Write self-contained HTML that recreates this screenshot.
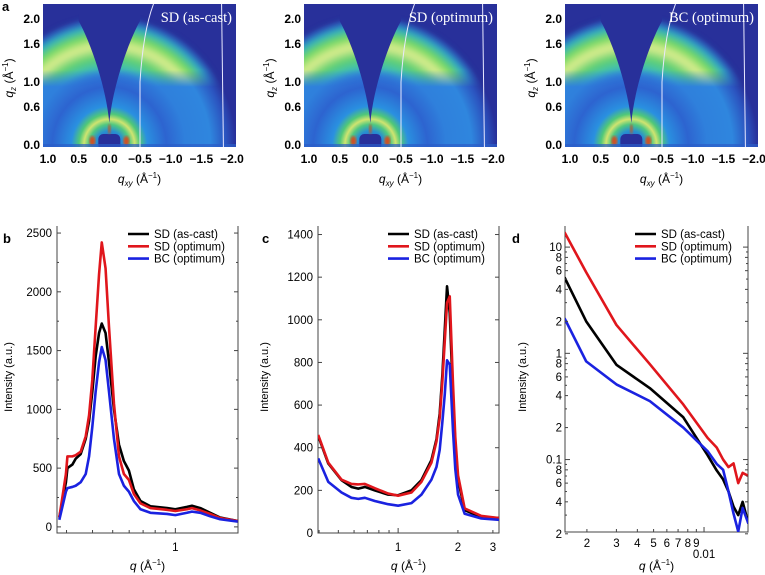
<!DOCTYPE html>
<html><head><meta charset="utf-8"><style>
html,body{margin:0;padding:0;background:#fff;}
svg{display:block;font-family:"Liberation Sans",sans-serif;}
</style></head><body>
<svg id="fig" width="765" height="575" viewBox="0 0 765 575">
<defs>
<radialGradient id="halo" cx="0.5" cy="0.5" r="0.5">
<stop offset="0" stop-color="#2250c8"/>
<stop offset="0.11" stop-color="#2890d0"/>
<stop offset="0.16" stop-color="#50c880"/>
<stop offset="0.2" stop-color="#d0e470"/>
<stop offset="0.24" stop-color="#50c878"/>
<stop offset="0.3" stop-color="#2a90e0"/>
<stop offset="0.45" stop-color="#2d64d0"/>
<stop offset="0.6" stop-color="#2f80dc"/>
<stop offset="0.8" stop-color="#2f86de"/>
<stop offset="0.92" stop-color="#2b54c0"/>
<stop offset="1" stop-color="#28309a"/>
</radialGradient>
<radialGradient id="greenband" cx="0.5" cy="0.5" r="0.5">
<stop offset="0" stop-color="#2f8ae0" stop-opacity="0"/>
<stop offset="0.52" stop-color="#2f8ae0" stop-opacity="0"/>
<stop offset="0.6" stop-color="#40c0b0"/>
<stop offset="0.68" stop-color="#60d070"/>
<stop offset="0.77" stop-color="#e0ee90"/>
<stop offset="0.85" stop-color="#70d860"/>
<stop offset="0.92" stop-color="#2fb0c0"/>
<stop offset="1" stop-color="#2f60d0" stop-opacity="0"/>
</radialGradient>
<linearGradient id="bandFade" x1="0" y1="0" x2="0" y2="1">
<stop offset="0" stop-color="#fff"/>
<stop offset="0.46" stop-color="#fff"/>
<stop offset="0.58" stop-color="#000"/>
<stop offset="1" stop-color="#000"/>
</linearGradient>
<filter id="blur3"><feGaussianBlur stdDeviation="3"/></filter>
<filter id="blur1"><feGaussianBlur stdDeviation="1.2"/></filter>
</defs>
<g id="panelA"></g>
<g id="panelB"></g>
<g id="panelC"></g>
<g id="panelD"></g>
</svg>
<script>
// ---------- Panel a data ----------
const aTitles = ["SD (as-cast)", "SD (optimum)", "BC (optimum)"];
const aLefts = [43, 304, 565];
const aXTicks = [1.0, 0.5, 0.0, -0.5, -1.0, -1.5, -2.0];
const aXTickLabels = ["1.0", "0.5", "0.0", "\u22120.5", "\u22121.0", "\u22121.5", "\u22122.0"];
const aYTicks = [0.0, 0.6, 1.0, 1.6, 2.0];
const aYTickLabels = ["0.0", "0.6", "1.0", "1.6", "2.0"];

// ---------- Panel b data ----------
const bQ = [0.277,0.298,0.303,0.320,0.332,0.351,0.371,0.385,0.399,0.414,0.430,0.443,0.462,0.480,0.507,0.536,0.566,0.598,0.632,0.680,0.759,0.912,1.0,1.137,1.202,1.318,1.470,1.641,1.995];
const bBlack = [80,380,500,530,580,620,750,900,1150,1450,1650,1730,1650,1400,1000,700,560,480,320,220,175,160,150,170,180,160,120,80,50];
const bRed = [80,450,600,600,610,640,770,950,1250,1700,2150,2420,2200,1700,1050,600,450,400,280,200,160,145,135,150,160,140,110,75,50];
const bBlue = [60,300,330,340,350,380,450,600,850,1150,1400,1530,1420,1150,750,450,350,300,220,150,120,110,100,120,130,120,90,65,45];
const bYTicks = [0,500,1000,1500,2000,2500];
const bXTicks = [1];

// ---------- Panel c data ----------
const cQ = [0.396,0.445,0.519,0.582,0.630,0.680,0.763,0.891,1.0,1.167,1.310,1.471,1.560,1.619,1.670,1.717,1.763,1.819,1.889,1.940,2.003,2.163,2.623,3.22];
const cBlack = [455,326,248,216,208,216,200,180,177,200,248,342,440,560,740,953,1157,1032,640,420,250,107,75,70];
const cRed = [460,330,250,230,228,230,210,185,175,190,240,330,430,540,710,900,1080,1110,700,450,270,115,80,70];
const cBlue = [350,240,190,165,160,165,150,135,128,140,180,250,310,390,520,650,810,790,480,300,180,90,68,62];
const cYTicks = [0,200,400,600,800,1000,1200,1400];
const cXTicks = [1,2,3];

// ---------- Panel d data ----------
const dQ = [0.00147,0.00198,0.0030,0.00475,0.00752,0.0105,0.0119,0.0130,0.0140,0.0150,0.0160,0.0170,0.0184];
const dRed = [13.8,5.8,1.85,0.79,0.33,0.16,0.13,0.10,0.085,0.092,0.06,0.075,0.07];
const dBlack = [5.2,2.0,0.78,0.47,0.25,0.11,0.079,0.065,0.05,0.036,0.03,0.04,0.025];
const dBlue = [2.14,0.84,0.51,0.355,0.20,0.12,0.091,0.08,0.05,0.031,0.021,0.035,0.025];
const dYMajor = [0.1,1,10];
const dYMinorLabeled = [0.02,0.04,0.06,0.08,0.2,0.4,0.6,0.8,2,4,6,8];
const dXLabeled = [0.002,0.003,0.004,0.005,0.006,0.007,0.008,0.009];

const NS = "http://www.w3.org/2000/svg";
function mk(tag, attrs, parent, text){
  const e = document.createElementNS(NS, tag);
  for (const k in attrs) e.setAttribute(k, attrs[k]);
  if (text !== undefined) e.textContent = text;
  parent.appendChild(e);
  return e;
}

// ================= Panel a =================
const gA = document.getElementById('panelA');
const lblA = mk('text', {x:2, y:11, 'font-size':13, 'font-weight':'bold'}, gA, 'a');


const defs = document.querySelector('defs');
aLefts.forEach((L, i) => {
  const W = 193, T = 4, H = 143;
  const sx = 184/3;
  const sy = 63;
  const x0 = L + 5;
  const xq = q => x0 + (1 - q) * sx;
  const yq = q => 145 - q * sy;
  const cx = xq(0), cy = yq(0);
  const g = mk('g', {}, gA);
  
  
  const cp = mk('clipPath', {id:'clipA'+i}, defs);
  mk('rect', {x:L, y:T, width:W, height:H}, cp);
  const mask = mk('mask', {id:'maskA'+i, maskUnits:'userSpaceOnUse', x:L, y:T, width:W, height:H}, defs);
  mk('rect', {x:L, y:T, width:W, height:H, fill:'url(#bandFade)'}, mask);
  const img = mk('g', {'clip-path':`url(#clipA${i})`}, g);
  mk('rect', {x:L, y:T, width:W, height:H, fill:'#28309a'}, img);
  const R = 2.05 * sy;
  mk('ellipse', {cx:cx, cy:cy, rx:R*0.98, ry:R, fill:'url(#halo)'}, img);
  const band = mk('g', {mask:`url(#maskA${i})`}, img);
  mk('ellipse', {cx:cx, cy:cy, rx:R*0.98, ry:R, fill:'url(#greenband)', filter:'url(#blur3)'}, band);
  mk('path', {d:`M${cx},${yq(0.35)} C${cx-3},${yq(0.9)} ${cx-18},${yq(1.6)} ${xq(0.5)},${yq(1.97)} L${xq(0.5)},${T} L${xq(-0.5)},${T} L${xq(-0.5)},${yq(1.97)} C${cx+18},${yq(1.6)} ${cx+3},${yq(0.9)} ${cx},${yq(0.35)} Z`, fill:'#28309a'}, img);
  mk('rect', {x:cx-11, y:cy-11, width:22, height:16, rx:5, fill:'#28309a'}, img);
  [-17, 17].forEach(dx => mk('ellipse', {cx:cx+dx, cy:cy-4, rx:3, ry:5, fill:'#d05020', filter:'url(#blur1)'}, img));
  mk('ellipse', {cx:cx, cy:cy-16, rx:1.5, ry:5, fill:'#b06030', filter:'url(#blur1)'}, img);
  mk('rect', {x:L, y:cy-1, width:W, height:3, fill:'#2b5cc8', opacity:0.7}, img);
  mk('path', {d:`M${xq(-0.5)},${T+H} L${xq(-0.5)},${yq(1.0)} Q${xq(-0.55)},${yq(1.8)} ${xq(-0.72)},${T}`, stroke:'#e8e8ff', 'stroke-width':1, fill:'none'}, img);
  mk('path', {d:`M${xq(-1.86)},${T+H} L${xq(-1.83)},${T}`, stroke:'#e8e8ff', 'stroke-width':1, fill:'none'}, img);
  const tt = mk('text', {x:L+W-4, y:22, 'text-anchor':'end', fill:'#fff', 'font-size':14.5, 'font-family':'"Liberation Serif",serif'}, g, aTitles[i]);
  
  
  aXTicks.forEach((q, k) => {
    const t = mk('text', {x:xq(q), y:163, 'text-anchor':'middle', 'font-size':12, 'font-weight':'bold'}, g, aXTickLabels[k]);
    
    
  });
  aYTicks.forEach((q, k) => {
    const t = mk('text', {x:L-3, y:yq(q)+4, 'text-anchor':'end', 'font-size':12, 'font-weight':'bold'}, g, aYTickLabels[k]);
    
    
  });
  const xl = mk('text', {x:L+W/2, y:183, 'text-anchor':'middle', 'font-size':12}, g);
  
  
  xl.innerHTML = '<tspan font-style="italic">q</tspan><tspan font-style="italic" font-size="8" dy="3">xy</tspan><tspan dy="-3"> (Å</tspan><tspan font-size="8" dy="-5">−1</tspan><tspan dy="5">)</tspan>';
  const yl = mk('text', {transform:`translate(${L-30},${78}) rotate(-90)`, 'text-anchor':'middle', 'font-size':12}, g);
  
  
  yl.innerHTML = '<tspan font-style="italic">q</tspan><tspan font-style="italic" font-size="8" dy="3">z</tspan><tspan dy="-3"> (Å</tspan><tspan font-size="8" dy="-5">−1</tspan><tspan dy="5">)</tspan>';
});

// ================= Line chart helper =================
function lineChart(opt){
  const g = document.getElementById(opt.id);
  const {L, R, T, B} = opt;
  const xs = q => L + (Math.log10(q) - Math.log10(opt.xmin)) / (Math.log10(opt.xmax) - Math.log10(opt.xmin)) * (R - L);
  const ys = opt.ylog
    ? v => B - (Math.log10(v) - Math.log10(opt.ymin)) / (Math.log10(opt.ymax) - Math.log10(opt.ymin)) * (B - T)
    : v => B - (v - opt.ymin) / (opt.ymax - opt.ymin) * (B - T);
  const pl = mk('text', {x:opt.labelX, y:243, 'font-size':13, 'font-weight':'bold'}, g, opt.letter);
  
  
  const cp = mk('clipPath', {id:'clip'+opt.id}, defs);
  mk('rect', {x:L, y:T, width:R-L, height:B-T}, cp);
  const ax = mk('path', {d:`M${L},${T} L${L},${B} L${R},${B} L${R},${T}`, stroke:'#444', 'stroke-width':1, fill:'none'}, g);
  
  
  const pg = mk('g', {'clip-path':`url(#clip${opt.id})`}, g);
  opt.series.forEach(s => {
    let d = '';
    opt.q.forEach((q, k) => { d += (k ? 'L' : 'M') + xs(q).toFixed(2) + ',' + ys(s.v[k]).toFixed(2); });
    const p = mk('path', {d:d, stroke:s.c, 'stroke-width':2.6, fill:'none', 'stroke-linejoin':'round'}, pg);
    
    
  });
  opt.series.forEach((s, k) => {
    const y = 234 + k * 12.3;
    const lg = mk('g', {}, g);
    
    
    mk('line', {x1:opt.legX, x2:opt.legX+21, y1:y, y2:y, stroke:s.c, 'stroke-width':2.6}, lg);
    mk('text', {x:opt.legX+26, y:y+4, 'font-size':11.5}, lg, s.label);
  });
  const yt = mk('text', {transform:`translate(${opt.yTitleX},377) rotate(-90)`, 'text-anchor':'middle', 'font-size':11}, g, 'Intensity (a.u.)');
  
  
  const xt = mk('text', {x:(L+R)/2, y:570, 'text-anchor':'middle', 'font-size':12}, g);
  
  
  xt.innerHTML = '<tspan font-style="italic">q</tspan> (Å<tspan font-size="8" dy="-5">−1</tspan><tspan dy="5">)</tspan>';
  return {g, xs, ys, L, R, T, B};
}
function tick(g, x1, y1, x2, y2){ mk('line', {x1, y1, x2, y2, stroke:'#444', 'stroke-width':1}, g); }
function label(g, x, y, txt, anchor, name){
  const t = mk('text', {x, y, 'text-anchor':anchor, 'font-size':11.5}, g, txt);
  
  
}
function minorLogX(c, xmin, xmax){
  for (let e = -4; e <= 1; e++) for (let m = 1; m < 10; m++){
    const q = m * Math.pow(10, e);
    if (q > xmin && q < xmax){ const x = c.xs(q); const len = m === 1 ? 5 : 3; tick(c.g, x, c.B, x, c.B - len); }
  }
}

// ================= Panel b =================
const cb = lineChart({id:'panelB', letter:'b', labelX:3, L:57, R:238, T:226, B:533, xmin:0.27, xmax:2.0, ymin:-52, ymax:2560,
  q:bQ, legX:128, yTitleX:12,
  series:[{n:'sd-as-cast', c:'#000', v:bBlack, label:'SD (as-cast)'},{n:'sd-optimum', c:'#e0161c', v:bRed, label:'SD (optimum)'},{n:'bc-optimum', c:'#1a22e0', v:bBlue, label:'BC (optimum)'}]});
bYTicks.forEach(v => { const y = cb.ys(v); tick(cb.g, cb.L, y, cb.L+4, y); tick(cb.g, cb.R, y, cb.R-4, y); label(cb.g, cb.L-5, y+4, String(v), 'end', 'y-tick-label'); });
bYTicks.forEach(v => { const y = cb.ys(v+250); if (v+250 < 2560){ tick(cb.g, cb.L, y, cb.L+2, y); tick(cb.g, cb.R, y, cb.R-2, y);} });
minorLogX(cb, 0.27, 2.0);
bXTicks.forEach(q => label(cb.g, cb.xs(q), 551, String(q), 'middle', 'x-tick-label'));

// ================= Panel c =================
const cc = lineChart({id:'panelC', letter:'c', labelX:262, L:318, R:499, T:226, B:533, xmin:0.395, xmax:3.22, ymin:0, ymax:1440,
  q:cQ, legX:388, yTitleX:268,
  series:[{n:'sd-as-cast', c:'#000', v:cBlack, label:'SD (as-cast)'},{n:'sd-optimum', c:'#e0161c', v:cRed, label:'SD (optimum)'},{n:'bc-optimum', c:'#1a22e0', v:cBlue, label:'BC (optimum)'}]});
cYTicks.forEach(v => { const y = cc.ys(v); tick(cc.g, cc.L, y, cc.L+4, y); tick(cc.g, cc.R, y, cc.R-4, y); label(cc.g, cc.L-5, y+4, String(v), 'end', 'y-tick-label'); });
minorLogX(cc, 0.395, 3.22);
cXTicks.forEach(q => label(cc.g, cc.xs(q), 551, String(q), 'middle', 'x-tick-label'));

// ================= Panel d =================
const cd = lineChart({id:'panelD', letter:'d', labelX:512, L:565, R:748, T:226, B:532, xmin:0.00148, xmax:0.0183, ylog:true, ymin:0.0208, ymax:15.8,
  q:dQ, legX:635, yTitleX:526,
  series:[{n:'sd-as-cast', c:'#000', v:dBlack, label:'SD (as-cast)'},{n:'sd-optimum', c:'#e0161c', v:dRed, label:'SD (optimum)'},{n:'bc-optimum', c:'#1a22e0', v:dBlue, label:'BC (optimum)'}]});
dYMajor.forEach(v => { const y = cd.ys(v); tick(cd.g, cd.L, y, cd.L+5, y); tick(cd.g, cd.R, y, cd.R-5, y); label(cd.g, cd.L-3, y+4, String(v), 'end', 'y-tick-label'); });
dYMinorLabeled.forEach(v => { const y = cd.ys(v); tick(cd.g, cd.L, y, cd.L+3, y); tick(cd.g, cd.R, y, cd.R-3, y); label(cd.g, cd.L-3, y+4, String(Math.round(v / Math.pow(10, Math.floor(Math.log10(v)+1e-9)))), 'end', 'y-tick-label'); });
for (let e = -2; e <= 1; e++) for (let m = 3; m <= 9; m += 2){ const v = m*Math.pow(10,e); if (v > 0.0208 && v < 15.8){ const y = cd.ys(v); tick(cd.g, cd.L, y, cd.L+2, y); tick(cd.g, cd.R, y, cd.R-2, y);} }
minorLogX(cd, 0.00148, 0.0183);
dXLabeled.forEach(q => label(cd.g, cd.xs(q), 547, String(Math.round(q*1000)), 'middle', 'x-tick-label'));
label(cd.g, cd.xs(0.01), 558, '0.01', 'middle', 'x-tick-label');
</script>
</body></html>
